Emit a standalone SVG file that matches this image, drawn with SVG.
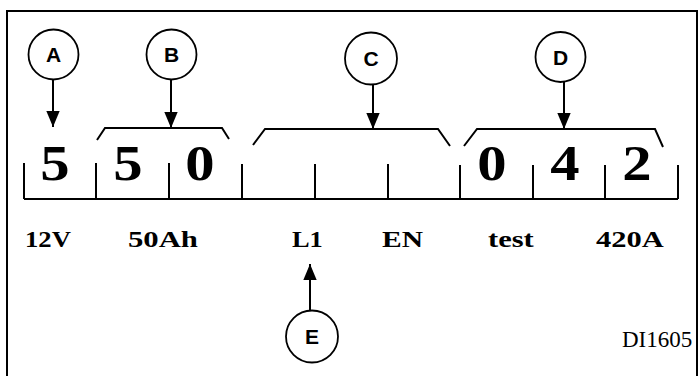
<svg xmlns="http://www.w3.org/2000/svg" width="699" height="376" viewBox="0 0 699 376">
  <style>
    .ln { fill: none; stroke: #000; stroke-width: 2; stroke-linejoin: miter; }
    .circ { fill: #fff; stroke: #000; stroke-width: 1.8; }
    .lbl { font-family: "Liberation Sans", Arial, sans-serif; font-weight: bold; font-size: 21px; text-anchor: middle; fill: #000; }
    .dig { font-family: "Liberation Serif", "Times New Roman", serif; font-weight: bold; font-size: 51px; text-anchor: middle; fill: #000; }
    .cap { font-family: "Liberation Serif", "Times New Roman", serif; font-weight: bold; font-size: 24px; fill: #000; }
    .code { font-family: "Liberation Serif", "Times New Roman", serif; font-size: 23px; fill: #000; }
  </style>
  <defs>
    <marker id="ah" markerUnits="userSpaceOnUse" markerWidth="16" markerHeight="19" refX="18" refY="7.5" orient="auto" viewBox="0 0 18 15">
      <path d="M0,0 L18,7.5 L0,15 Z" fill="#000"/>
    </marker>
  </defs>
  <rect width="699" height="376" fill="#fff"/>
  <rect id="frame" x="7" y="11" width="690" height="380" fill="none" stroke="#000" stroke-width="2"/>

  <g id="scale">
    <path class="ln" d="M24,199 H678 M24,163 V199 M96,163 V199 M169,163 V199 M242,164 V199 M315,164 V199 M388,164 V199 M460,165 V199 M533,165 V199 M605,165 V199 M678,165 V199"/>
  </g>

  <g id="brackets">
    <path class="ln" d="M97,140 L105,128 H222 L229,139"/>
    <path class="ln" d="M253,145 L265,129 H438 L450,146"/>
    <path class="ln" d="M464,146 L477,129 H655 L663,147"/>
  </g>

  <g id="digits">
    <text class="dig" transform="translate(55,180) scale(1.15,1)">5</text>
    <text class="dig" transform="translate(128,180) scale(1.15,1)">5</text>
    <text class="dig" transform="translate(200,180) scale(1.15,1)">0</text>
    <text class="dig" transform="translate(492,180) scale(1.15,1)">0</text>
    <text class="dig" transform="translate(565,180) scale(1.15,1)">4</text>
    <text class="dig" transform="translate(637,180) scale(1.15,1)">2</text>
  </g>

  <g id="captions">
    <text class="cap" transform="translate(25,247) scale(1.11,1)">12V</text>
    <text class="cap" transform="translate(128,247) scale(1.28,1)">50Ah</text>
    <text class="cap" transform="translate(292,247) scale(1.1,1)">L1</text>
    <text class="cap" transform="translate(382,247) scale(1.23,1)">EN</text>
    <text class="cap" transform="translate(488,247) scale(1.27,1)">test</text>
    <text class="cap" transform="translate(596,247) scale(1.27,1)">420A</text>
    <text class="code" x="622" y="347">DI1605</text>
  </g>

  <g id="connectors">
    <line class="ln" x1="53" y1="80" x2="53" y2="127" marker-end="url(#ah)"/>
    <line class="ln" x1="171" y1="80" x2="171" y2="128" marker-end="url(#ah)"/>
    <line class="ln" x1="373" y1="85" x2="373" y2="129" marker-end="url(#ah)"/>
    <line class="ln" x1="564" y1="82" x2="564" y2="129" marker-end="url(#ah)"/>
    <line class="ln" x1="310" y1="311" x2="310" y2="264" marker-end="url(#ah)"/>
  </g>

  <g id="node-A">
    <circle class="circ" cx="53.5" cy="54.5" r="25"/>
    <text class="lbl" x="53.5" y="62">A</text>
  </g>
  <g id="node-B">
    <circle class="circ" cx="171.5" cy="54.5" r="25"/>
    <text class="lbl" x="171.5" y="62">B</text>
  </g>
  <g id="node-C">
    <circle class="circ" cx="371" cy="58.5" r="26"/>
    <text class="lbl" x="371" y="66">C</text>
  </g>
  <g id="node-D">
    <circle class="circ" cx="560.5" cy="57" r="25"/>
    <text class="lbl" x="560.5" y="64.5">D</text>
  </g>
  <g id="node-E">
    <circle class="circ" cx="312" cy="336.5" r="26"/>
    <text class="lbl" x="312" y="344">E</text>
  </g>
</svg>
